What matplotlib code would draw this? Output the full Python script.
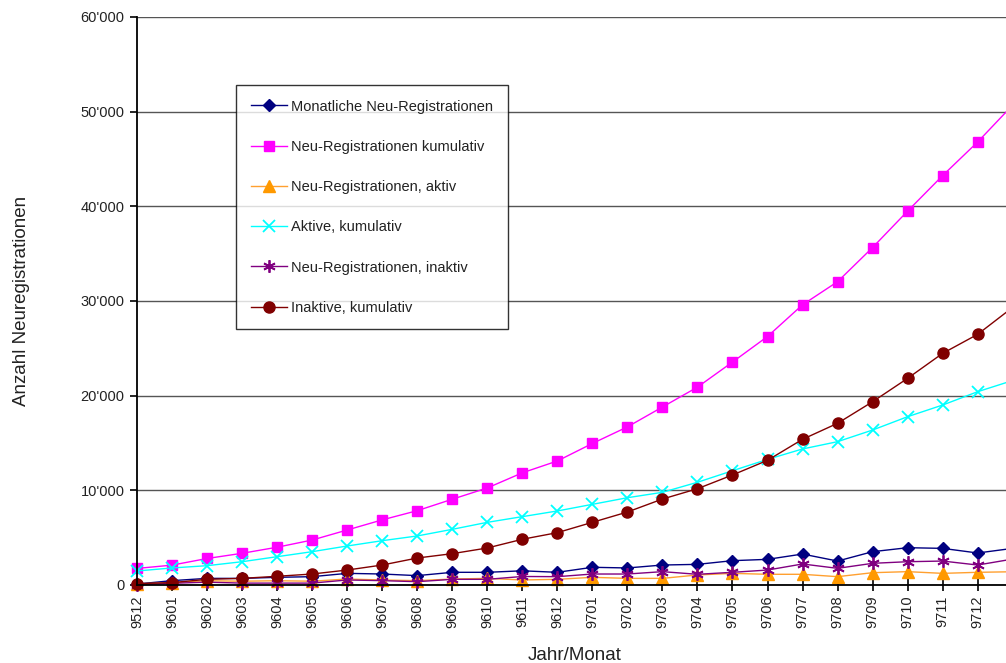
import matplotlib
matplotlib.use('Agg')
import matplotlib.pyplot as plt
from matplotlib.ticker import FuncFormatter

plt.rcParams['font.family'] = ['Liberation Sans', 'DejaVu Sans']

# Jahr/Monat (9801 liegt schon ausserhalb des Bildes)
monate = ['9512', '9601', '9602', '9603', '9604', '9605', '9606', '9607', '9608',
          '9609', '9610', '9611', '9612', '9701', '9702', '9703', '9704', '9705',
          '9706', '9707', '9708', '9709', '9710', '9711', '9712', '9801']

monatlich = [100, 460, 700, 700, 810, 880, 1230, 1160, 990, 1340, 1340, 1500, 1340,
             1870, 1800, 2110, 2180, 2570, 2710, 3270, 2530, 3520, 3940, 3870, 3380, 3870]
kumulativ = [1750, 2100, 2800, 3350, 3990, 4750, 5810, 6880, 7850, 9060, 10250, 11850,
             13100, 14950, 16700, 18800, 20900, 23550, 26250, 29600, 32040, 35650,
             39500, 43250, 46800, 50700]
aktiv = [100, 250, 450, 400, 450, 400, 630, 530, 460, 630, 700, 530, 600,
         810, 700, 700, 1060, 1230, 1130, 1130, 880, 1300, 1410, 1230, 1340, 1400]
aktiv_kum = [1480, 1800, 2040, 2460, 2990, 3520, 4120, 4680, 5180, 5880, 6620, 7220,
             7820, 8520, 9220, 9790, 10850, 12070, 13270, 14370, 15140, 16370,
             17780, 19010, 20420, 21600]
inaktiv = [0, 180, 300, 200, 200, 200, 530, 460, 350, 600, 600, 900, 880,
           1160, 1160, 1410, 1130, 1340, 1580, 2220, 1760, 2290, 2460, 2530, 2110, 2740]
inaktiv_kum = [150, 250, 600, 700, 920, 1160, 1580, 2110, 2850, 3310, 3910, 4830,
               5530, 6620, 7710, 9080, 10170, 11620, 13170, 15390, 17080, 19360,
               21830, 24470, 26480, 29330]

fig = plt.figure(figsize=(10.06, 6.63), dpi=100)
# Achse reicht rechts ueber den Bildrand hinaus (wie im Original abgeschnitten)
ax = fig.add_axes([137 / 1006, 78 / 663, (1012.7 - 137) / 1006, 568 / 663])

x = list(range(len(monate)))
lw = 1.0
ax.plot(x, monatlich, color='#000080', lw=lw, marker='D', ms=6.5,
        label='Monatliche Neu-Registrationen')
ax.plot(x, kumulativ, color='#FF00FF', lw=lw, marker='s', ms=7.5,
        label='Neu-Registrationen kumulativ')
ax.plot(x, aktiv, color='#FFA030', lw=lw, marker='^', ms=8, mfc='#FF9900', mec='#FF9900',
        label='Neu-Registrationen, aktiv')
ax.plot(x, aktiv_kum, color='#00FFFF', lw=lw, marker='x', ms=8, mew=1.3,
        label='Aktive, kumulativ')
ax.plot(x, inaktiv, color='#800080', lw=lw, marker=(6, 2, 0), ms=9, mew=1.3,
        label='Neu-Registrationen, inaktiv')
ax.plot(x, inaktiv_kum, color='#800000', lw=lw, marker='o', ms=8,
        label='Inaktive, kumulativ')

for s in ax.get_lines():
    s.set_clip_on(False)

ax.set_xlim(0, len(monate) - 1)
ax.set_ylim(0, 60000)
ax.set_yticks(range(0, 60001, 10000))
ax.yaxis.set_major_formatter(FuncFormatter(lambda v, p: f"{int(v):,}".replace(',', "'")))
ax.set_xticks(x[:-1])
ax.set_xticklabels(monate[:-1], rotation=90)

ax.grid(axis='y', color='#555555', lw=1.0)
ax.set_axisbelow(True)
ax.spines['top'].set_visible(False)
ax.spines['right'].set_visible(False)
ax.spines['left'].set_linewidth(1.3)
ax.spines['bottom'].set_linewidth(1.3)
ax.tick_params(axis='y', direction='out', length=5, width=1.2, labelsize=10.5, pad=4,
               labelcolor='#222222')
ax.tick_params(axis='x', direction='inout', length=9, width=1.2, labelsize=10.5, pad=3,
               labelcolor='#222222')

ax.set_xlabel('Jahr/Monat', fontsize=13.5, labelpad=14, color='#222222')
ax.set_ylabel('Anzahl Neuregistrationen', fontsize=13.5, labelpad=36, color='#222222')

leg = ax.legend(loc='upper left', bbox_to_anchor=(236 / 1006, 1 - 85 / 663),
                bbox_transform=fig.transFigure, fontsize=10.5, frameon=True,
                fancybox=False, edgecolor='black', labelspacing=1.8,
                handlelength=2.5, handletextpad=0.3, borderpad=1.0, borderaxespad=0)
leg.get_frame().set_linewidth(1.0)
for t in leg.get_texts():
    t.set_color('#222222')

fig.savefig('out.png', dpi=100)
